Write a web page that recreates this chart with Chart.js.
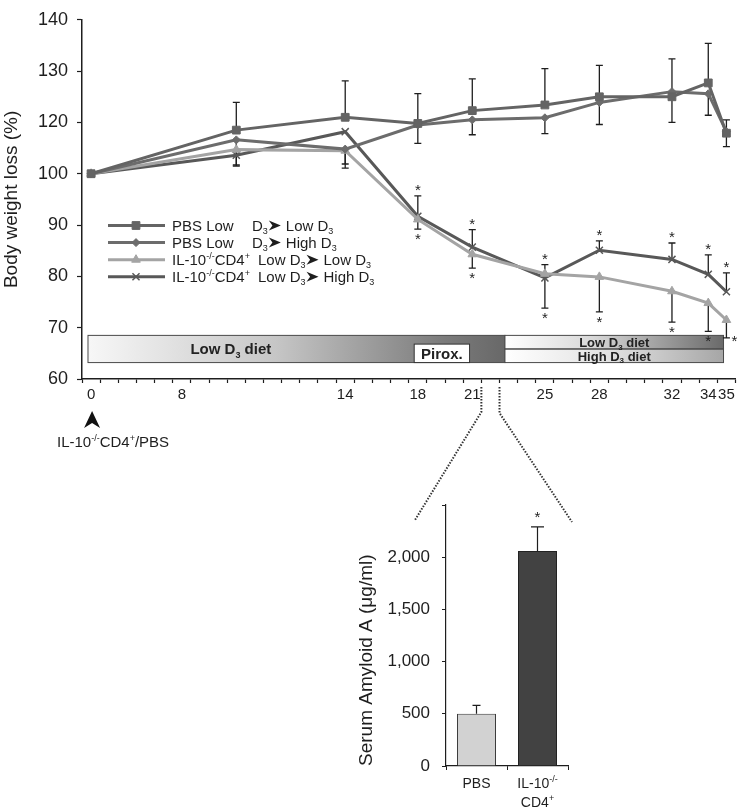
<!DOCTYPE html>
<html>
<head>
<meta charset="utf-8">
<script src="https://cdn.jsdelivr.net/npm/chart.js@4/dist/chart.umd.min.js"></script>
<style>
  html, body { margin: 0; padding: 0; background: #fff; }
  #wrap { position: relative; width: 742px; height: 807px; }
  #main { position: absolute; left: 0; top: 0; }
  #saa { position: absolute; left: 330px; top: 480px; }
</style>
</head>
<body>
<div id="wrap">
  <canvas id="main" width="742" height="807"></canvas>
  <canvas id="saa" width="260" height="327"></canvas>
</div>
<script>
const FONT = "'Liberation Sans', Arial, sans-serif";
const INK = '#1e1e1e';

// body weight, days after transfer (values read in axis units, axis drawn 60..130, labelled as in the figure)
const days = [0, 8, 14, 18, 21, 25, 28, 32, 34, 35];
const pbsLowLow = [100, 108.5, 111.0, 109.8, 112.3, 113.4, 115.0, 115.0, 117.7, 107.9];
const pbsLowHigh = [100, 106.6, 104.8, 109.5, 110.5, 110.9, 113.9, 116.0, 115.6, 108.2];
const il10LowLow = [100, 104.7, 104.5, 91.1, 84.3, 80.5, 79.9, 77.1, 74.8, 71.5];
const il10LowHigh = [100, 103.6, 108.2, 91.7, 85.7, 79.7, 85.1, 83.3, 80.4, 77.0];

// error bars (one side shown per series)
const pbsLowLowErrUp = [null, 5.4, 7.1, 5.8, 6.2, 7.1, 6.1, 7.4, 7.7, 2.6];
const pbsLowHighErrDown = [null, 4.9, 2.9, 3.6, 2.9, 3.1, 4.3, 6.0, 4.2, 2.9];
const il10LowLowErrDown = [null, 3.2, 3.4, 1.9, 2.7, 6.7, 6.8, 6.0, 5.5, 3.5];
const il10LowHighErrUp = [null, null, null, 4.0, 3.4, 2.6, 1.8, 3.2, 3.8, 3.7];
const starDays = [18, 21, 25, 28, 32, 34, 35];

// axis labels as printed
const xTickDays = [0, 5, 14, 18, 21, 25, 28, 32, 34, 35];
const xTickText = ['0', '8', '14', '18', '21', '25', '28', '32', '34', '35'];
const yTickText = ['60', '70', '80', '90', '100', '120', '130', '140'];

// serum amyloid A at day 21-22
const saaGroups = ['PBS', 'IL-10-/- CD4+'];
const saaMeans = [500, 2060];
const saaErr = [80, 230];

const dayLabels = [];
for (let d = 0; d <= 35; d++) dayLabels.push(String(d));

function rich(ctx, parts, x, y, size, weight) {
  ctx.textBaseline = 'alphabetic';
  ctx.textAlign = 'left';
  parts.forEach(([t, k]) => {
    const s = k === 'n' ? size : Math.round(size * 0.62);
    const dy = k === 'sub' ? size * 0.22 : k === 'sup' ? -size * 0.4 : 0;
    ctx.font = `${weight || 'normal'} ${s}px ${FONT}`;
    ctx.fillText(t, x, y + dy);
    x += ctx.measureText(t).width;
  });
  return x;
}
function richWidth(ctx, parts, size, weight) {
  let w = 0;
  parts.forEach(([t, k]) => {
    const s = k === 'n' ? size : Math.round(size * 0.62);
    ctx.font = `${weight || 'normal'} ${s}px ${FONT}`;
    w += ctx.measureText(t).width;
  });
  return w;
}
function arrowRight(ctx, x, yc, w, h) {
  ctx.beginPath();
  ctx.moveTo(x + w, yc);
  ctx.lineTo(x, yc - h / 2);
  ctx.lineTo(x + w * 0.3, yc);
  ctx.lineTo(x, yc + h / 2);
  ctx.closePath();
  ctx.fill();
}

const D3 = [['D', 'n'], ['3', 'sub']];
const IL10CD4 = [['IL-10', 'n'], ['-/-', 'sup'], ['CD4', 'n'], ['+', 'sup']];

const dietBar = {
  id: 'dietBar',
  beforeDatasetsDraw(chart) {
    const { ctx, scales: { x, y } } = chart;
    const x0 = x.getPixelForValue(-0.17), x1 = x.getPixelForValue(22.8), x2 = x.getPixelForValue(34.84);
    const yt = y.getPixelForValue(68.5), ym = y.getPixelForValue(65.85), yb = y.getPixelForValue(63.2);
    ctx.save();
    let g = ctx.createLinearGradient(x0, 0, x1, 0);
    g.addColorStop(0, '#f7f7f7'); g.addColorStop(0.45, '#c6c6c6');
    g.addColorStop(0.85, '#7c7c7c'); g.addColorStop(1, '#686868');
    ctx.fillStyle = g;
    ctx.fillRect(x0, yt, x1 - x0, yb - yt);
    ctx.strokeStyle = '#4a4a4a'; ctx.lineWidth = 1;
    ctx.strokeRect(x0, yt, x1 - x0, yb - yt);

    g = ctx.createLinearGradient(x1, 0, x2, 0);
    g.addColorStop(0, '#ffffff'); g.addColorStop(0.4, '#d8d8d8'); g.addColorStop(1, '#6a6a6a');
    ctx.fillStyle = g;
    ctx.fillRect(x1, yt, x2 - x1, ym - yt);
    g = ctx.createLinearGradient(x1, 0, x2, 0);
    g.addColorStop(0, '#ffffff'); g.addColorStop(0.5, '#e0e0e0'); g.addColorStop(1, '#a6a6a6');
    ctx.fillStyle = g;
    ctx.fillRect(x1, ym, x2 - x1, yb - ym);
    ctx.strokeRect(x1, yt, x2 - x1, ym - yt);
    ctx.strokeRect(x1, ym, x2 - x1, yb - ym);

    const px0 = x.getPixelForValue(17.8), px1 = x.getPixelForValue(20.85), pt = y.getPixelForValue(66.8);
    ctx.fillStyle = '#fff';
    ctx.fillRect(px0, pt, px1 - px0, yb - pt);
    ctx.strokeStyle = '#333';
    ctx.strokeRect(px0, pt, px1 - px0, yb - pt);

    ctx.fillStyle = '#222';
    let parts = [['Low ', 'n'], ...D3, [' diet', 'n']];
    let cx = x.getPixelForValue(7.7), w = richWidth(ctx, parts, 15, 'bold');
    rich(ctx, parts, cx - w / 2, (yt + yb) / 2 + 5.5, 15, 'bold');
    parts = [['Pirox.', 'n']];
    w = richWidth(ctx, parts, 15, 'bold');
    rich(ctx, parts, (px0 + px1) / 2 - w / 2, (pt + yb) / 2 + 5.5, 15, 'bold');
    cx = (x1 + x2) / 2;
    parts = [['Low ', 'n'], ...D3, [' diet', 'n']];
    w = richWidth(ctx, parts, 13, 'bold');
    rich(ctx, parts, cx - w / 2, (yt + ym) / 2 + 4.8, 13, 'bold');
    parts = [['High ', 'n'], ...D3, [' diet', 'n']];
    w = richWidth(ctx, parts, 13, 'bold');
    rich(ctx, parts, cx - w / 2, (ym + yb) / 2 + 4.8, 13, 'bold');
    ctx.restore();
  }
};

const errorBars = {
  id: 'errorBars',
  beforeDatasetsDraw(chart) {
    const { ctx, scales: { x, y } } = chart;
    const sets = [[pbsLowLow, pbsLowLowErrUp, 1], [pbsLowHigh, pbsLowHighErrDown, -1],
                  [il10LowLow, il10LowLowErrDown, -1], [il10LowHigh, il10LowHighErrUp, 1]];
    ctx.save();
    ctx.strokeStyle = INK; ctx.lineWidth = 1.3;
    sets.forEach(([vals, errs, dir]) => {
      days.forEach((d, i) => {
        if (errs[i] == null) return;
        const px = x.getPixelForValue(d);
        const y0 = y.getPixelForValue(vals[i]);
        const y1 = y.getPixelForValue(vals[i] + dir * errs[i]);
        ctx.beginPath();
        ctx.moveTo(px, y0); ctx.lineTo(px, y1);
        ctx.moveTo(px - 3.5, y1); ctx.lineTo(px + 3.5, y1);
        ctx.stroke();
      });
    });
    ctx.restore();
  },
  afterDatasetsDraw(chart) {
    const { ctx, scales: { x, y } } = chart;
    ctx.save();
    ctx.fillStyle = INK;
    ctx.font = `15px ${FONT}`;
    ctx.textAlign = 'center';
    ctx.textBaseline = 'middle';
    starDays.forEach(d => {
      const i = days.indexOf(d);
      const px = x.getPixelForValue(d);
      const up = y.getPixelForValue(il10LowHigh[i] + il10LowHighErrUp[i]);
      ctx.fillText('*', px, up - 5);
      const dn = y.getPixelForValue(il10LowLow[i] - il10LowLowErrDown[i]);
      if (i === days.length - 1) ctx.fillText('*', px + 8, dn + 4);
      else ctx.fillText('*', px, dn + 11);
    });
    ctx.restore();
  }
};

const legendRows = [
  { pre: [['PBS Low', 'n']], at: 80, from: [...D3], to: [['Low ', 'n'], ...D3] },
  { pre: [['PBS Low', 'n']], at: 80, from: [...D3], to: [['High ', 'n'], ...D3] },
  { pre: IL10CD4, at: 86, from: [['Low ', 'n'], ...D3], to: [['Low ', 'n'], ...D3] },
  { pre: IL10CD4, at: 86, from: [['Low ', 'n'], ...D3], to: [['High ', 'n'], ...D3] }
];

const extras = {
  id: 'extras',
  afterDraw(chart) {
    const { ctx, scales: { x } } = chart;
    ctx.save();
    // legend
    chart.data.datasets.forEach((ds, i) => {
      const yc = 225.5 + i * 17.1;
      ctx.strokeStyle = ds.borderColor; ctx.lineWidth = 3;
      ctx.beginPath(); ctx.moveTo(108, yc); ctx.lineTo(165, yc); ctx.stroke();
      ctx.fillStyle = ds.pointBackgroundColor;
      ctx.lineWidth = ds.pointBorderWidth;
      Chart.helpers.drawPoint(ctx, {
        pointStyle: ds.pointStyle, radius: ds.pointRadius, borderWidth: ds.pointBorderWidth
      }, 136, yc);
      const r = legendRows[i];
      ctx.fillStyle = INK;
      const bx = 172, by = yc + 5.3;
      rich(ctx, r.pre, bx, by, 15);
      let ex = rich(ctx, r.from, bx + r.at, by, 15);
      arrowRight(ctx, ex + 1, yc, 12, 10);
      rich(ctx, r.to, ex + 18, by, 15);
    });
    // transfer arrow under day 0
    const ax = x.getPixelForValue(0) + 1;
    ctx.fillStyle = '#111';
    ctx.beginPath();
    ctx.moveTo(ax, 411); ctx.lineTo(ax - 8, 428); ctx.lineTo(ax, 423); ctx.lineTo(ax + 8, 428);
    ctx.closePath(); ctx.fill();
    ctx.fillStyle = INK;
    rich(ctx, [...IL10CD4, ['/PBS', 'n']], 57, 447, 15);
    // dotted connector to serum amyloid panel
    ctx.strokeStyle = '#333'; ctx.lineWidth = 2; ctx.setLineDash([1.5, 1.5]);
    const l = x.getPixelForValue(21.5), r2 = x.getPixelForValue(22.5);
    ctx.beginPath(); ctx.moveTo(l, 387); ctx.lineTo(l, 412); ctx.lineTo(415, 520); ctx.stroke();
    ctx.beginPath(); ctx.moveTo(r2, 387); ctx.lineTo(r2, 413); ctx.lineTo(572, 522); ctx.stroke();
    ctx.restore();
  }
};

function series(label, vals, color, style, radius, bw) {
  return {
    label,
    data: days.map((d, i) => ({ x: String(d), y: vals[i] })),
    borderColor: color, backgroundColor: color,
    pointBackgroundColor: color, pointBorderColor: color,
    borderWidth: 3, pointStyle: style, pointRadius: radius, pointBorderWidth: bw || 1,
    tension: 0
  };
}

new Chart(document.getElementById('main'), {
  type: 'line',
  data: {
    labels: dayLabels,
    datasets: [
      series('PBS Low D3 \u2192 Low D3', pbsLowLow, '#646464', 'rect', 5.5),
      series('PBS Low D3 \u2192 High D3', pbsLowHigh, '#6c6c6c', 'rectRot', 4),
      series('IL-10-/-CD4+ Low D3 \u2192 Low D3', il10LowLow, '#a4a4a4', 'triangle', 5),
      series('IL-10-/-CD4+ Low D3 \u2192 High D3', il10LowHigh, '#585858', 'crossRot', 5, 1.5)
    ]
  },
  options: {
    responsive: false,
    animation: false,
    layout: { padding: { top: 10, right: 2, bottom: 398, left: 0 } },
    plugins: { legend: { display: false }, tooltip: { enabled: false } },
    scales: {
      x: {
        type: 'category',
        offset: true,
        grid: { offset: true, drawOnChartArea: false, tickLength: 4, color: INK, tickWidth: 1.2 },
        border: { color: INK, width: 1.5 },
        ticks: {
          autoSkip: false, maxRotation: 0, padding: 3, color: INK,
          font: { family: FONT, size: 15 },
          callback: (v, i) => { const k = xTickDays.indexOf(i); return k < 0 ? '' : xTickText[k]; }
        },
        afterFit: s => { s.height = 30; }
      },
      y: {
        min: 60, max: 130,
        grid: { drawOnChartArea: false, tickLength: 5, color: INK, tickWidth: 1.2 },
        border: { color: INK, width: 1.5 },
        ticks: {
          stepSize: 10, padding: 9, color: INK, font: { family: FONT, size: 18 },
          callback: v => yTickText[Math.round((v - 60) / 10)]
        },
        title: { display: true, text: 'Body weight loss (%)', color: INK, padding: 0, font: { family: FONT, size: 19 } },
        afterFit: s => { s.width = 82; }
      }
    }
  },
  plugins: [dietBar, errorBars, extras]
});

const saaExtras = {
  id: 'saaExtras',
  afterDatasetsDraw(chart) {
    const { ctx, scales: { x, y } } = chart;
    const meta = chart.getDatasetMeta(0);
    ctx.save();
    ctx.strokeStyle = INK; ctx.lineWidth = 1.2;
    meta.data.forEach((bar, i) => {
      const y0 = y.getPixelForValue(saaMeans[i]);
      const y1 = y.getPixelForValue(saaMeans[i] + saaErr[i]);
      const cap = i === 0 ? 4 : 6.5;
      ctx.beginPath();
      ctx.moveTo(bar.x, y0); ctx.lineTo(bar.x, y1);
      ctx.moveTo(bar.x - cap, y1); ctx.lineTo(bar.x + cap, y1);
      ctx.stroke();
    });
    const b = meta.data[1];
    ctx.fillStyle = INK; ctx.font = `15px ${FONT}`;
    ctx.textAlign = 'center'; ctx.textBaseline = 'middle';
    ctx.fillText('*', b.x, y.getPixelForValue(saaMeans[1] + saaErr[1]) - 9);
    // category names with superscripts
    const names = [
      [[['PBS', 'n']]],
      [[['IL-10', 'n'], ['-/-', 'sup']], [['CD4', 'n'], ['+', 'sup']]]
    ];
    names.forEach((lines, i) => {
      const cx = x.getPixelForValue(i);
      lines.forEach((parts, j) => {
        const w = richWidth(ctx, parts, 14);
        rich(ctx, parts, cx - w / 2, y.bottom + 22 + j * 18.5, 14);
      });
    });
    ctx.restore();
  }
};

new Chart(document.getElementById('saa'), {
  type: 'bar',
  data: {
    labels: saaGroups,
    datasets: [{
      data: saaMeans,
      backgroundColor: ['#d2d2d2', '#424242'],
      borderColor: ['#3a3a3a', '#222'],
      borderWidth: 1,
      borderSkipped: 'bottom',
      barPercentage: 0.64,
      categoryPercentage: 1
    }]
  },
  options: {
    responsive: false,
    animation: false,
    layout: { padding: { left: 22, top: 25, right: 22, bottom: 0 } },
    plugins: { legend: { display: false }, tooltip: { enabled: false } },
    scales: {
      x: {
        grid: { offset: true, drawOnChartArea: false, tickLength: 4, color: INK },
        border: { color: INK, width: 1.2 },
        ticks: { padding: 6, color: INK, font: { family: FONT, size: 14 }, callback: () => '' },
        afterFit: s => { s.height = 41; }
      },
      y: {
        min: 0, max: 2500,
        grid: { drawOnChartArea: false, tickLength: 4, color: INK },
        border: { color: INK, width: 1.2 },
        ticks: {
          stepSize: 500, padding: 12, color: INK, font: { family: FONT, size: 17 },
          callback: v => v === 2500 ? '' : v.toLocaleString('en-US')
        },
        title: { display: true, text: 'Serum Amyloid A (\u03BCg/ml)', align: 'start', color: INK, padding: { top: 3, bottom: 0 }, font: { family: FONT, size: 19 } },
        afterFit: s => { s.width = 94; }
      }
    }
  },
  plugins: [saaExtras]
});
</script>
</body>
</html>
